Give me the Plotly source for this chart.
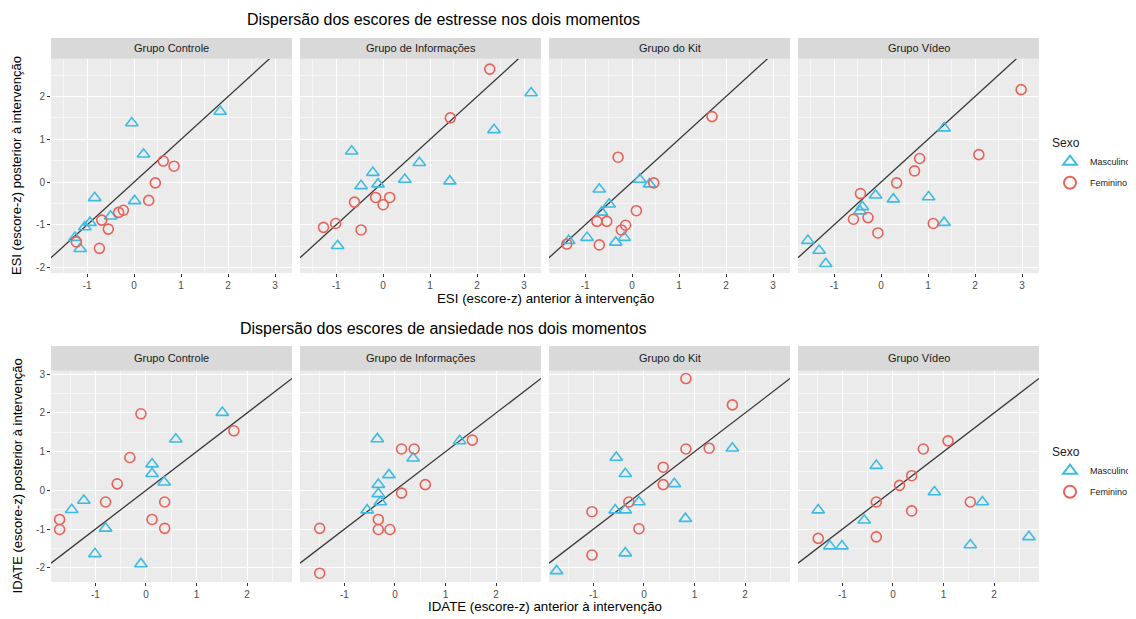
import plotly.graph_objects as go

# page body has an 8px margin: design in screenshot pixels, figure shifted by 8px
OFF = 8
W, H = 1136 - OFF, 619 - OFF

# ---------------- data (escore-z) ----------------
GROUPS = ["Grupo Controle", "Grupo de Informações", "Grupo do Kit", "Grupo Vídeo"]
SEXES = ["Masculino", "Feminino"]

# tick labels
ESI_X_TICKS = [-1, 0, 1, 2, 3]
ESI_Y_TICKS = [-2, -1, 0, 1, 2]
IDATE_X_TICKS = [-1, 0, 1, 2]
IDATE_Y_TICKS = [-2, -1, 0, 1, 2, 3]

# ESI (estresse) - anterior (x) / posterior (y)
esi_controle_m_x = [-0.05, 0.20, 1.83, -0.84, 0.01, -0.94, -1.05, -0.50, -1.26, -1.15]
esi_controle_m_y = [1.38, 0.65, 1.65, -0.37, -0.44, -0.95, -1.05, -0.80, -1.30, -1.56]
esi_controle_f_x = [0.62, 0.85, 0.45, 0.31, -0.23, -0.33, -0.69, -0.55, -0.74, -1.23]
esi_controle_f_y = [0.49, 0.37, -0.02, -0.43, -0.66, -0.71, -0.89, -1.10, -1.55, -1.40]

esi_info_m_x = [-0.67, -0.22, -0.47, -0.11, 0.46, 0.77, 1.42, 2.36, 3.15, -0.97]
esi_info_m_y = [0.72, 0.22, -0.09, -0.05, 0.06, 0.45, 0.02, 1.22, 2.08, -1.49]
esi_info_f_x = [2.27, 1.43, 0.14, -0.16, 0.00, -0.61, -1.01, -1.27, -0.47]
esi_info_f_y = [2.64, 1.50, -0.36, -0.36, -0.53, -0.47, -0.97, -1.06, -1.12]

esi_kit_m_x = [-0.70, -0.49, -0.65, -0.96, -1.35, -0.35, -0.17, 0.16, 0.37]
esi_kit_m_y = [-0.17, -0.52, -0.71, -1.30, -1.37, -1.41, -1.30, 0.06, -0.05]
esi_kit_f_x = [1.70, -0.30, 0.46, 0.09, -0.75, -0.54, -0.14, -0.23, -0.70, -1.39]
esi_kit_f_y = [1.53, 0.58, -0.02, -0.67, -0.92, -0.92, -1.01, -1.12, -1.47, -1.45]

esi_video_m_x = [1.34, -0.12, 0.26, 1.01, -0.40, -0.45, 1.34, -1.56, -1.32, -1.18]
esi_video_m_y = [1.26, -0.31, -0.40, -0.35, -0.58, -0.68, -0.95, -1.37, -1.60, -1.91]
esi_video_f_x = [2.98, 2.08, 0.82, 0.71, 0.33, -0.44, -0.59, -0.28, -0.07, 1.11]
esi_video_f_y = [2.16, 0.64, 0.55, 0.26, -0.02, -0.27, -0.87, -0.83, -1.19, -0.97]

# IDATE (ansiedade) - anterior (x) / posterior (y)
idate_controle_m_x = [1.51, 0.59, 0.12, 0.12, 0.36, -1.23, -1.47, -0.80, -1.01, -0.10]
idate_controle_m_y = [2.01, 1.32, 0.68, 0.43, 0.21, -0.26, -0.50, -0.98, -1.64, -1.90]
idate_controle_f_x = [-0.10, 1.74, -0.32, -0.57, -0.80, 0.37, 0.12, 0.37, -1.71, -1.71]
idate_controle_f_y = [1.98, 1.54, 0.85, 0.17, -0.30, -0.30, -0.75, -0.98, -0.75, -1.01]

idate_info_m_x = [-0.35, 1.28, 0.36, -0.12, -0.33, -0.33, -0.29, -0.55]
idate_info_m_y = [1.33, 1.28, 0.83, 0.40, 0.15, -0.09, -0.30, -0.51]
idate_info_f_x = [1.53, 0.13, 0.38, 0.60, 0.13, -0.33, -0.33, -0.10, -1.49, -1.49]
idate_info_f_y = [1.30, 1.07, 1.07, 0.15, -0.07, -0.75, -1.01, -1.01, -0.98, -2.14]

idate_kit_m_x = [-0.55, -0.37, 0.60, -0.10, -0.57, -0.37, 0.82, 1.75, -0.37, -1.73]
idate_kit_m_y = [0.85, 0.43, 0.17, -0.30, -0.51, -0.51, -0.73, 1.09, -1.62, -2.08]
idate_kit_f_x = [0.83, 1.75, 0.83, 1.29, 0.38, 0.38, -0.30, -1.03, -0.10, -1.03]
idate_kit_f_y = [2.89, 2.21, 1.07, 1.09, 0.60, 0.15, -0.30, -0.55, -0.99, -1.67]

idate_video_m_x = [-0.33, 0.82, 1.77, -0.57, -1.25, -1.01, 1.53, 2.69, -1.48]
idate_video_m_y = [0.64, -0.04, -0.30, -0.77, -1.44, -1.44, -1.41, -1.20, -0.51]
idate_video_f_x = [1.09, 0.60, 0.37, 0.13, -0.33, 0.37, 1.53, -0.33, -1.48]
idate_video_f_y = [1.28, 1.07, 0.38, 0.13, -0.30, -0.53, -0.30, -1.20, -1.24]

ESI_PANELS = [
    (esi_controle_m_x, esi_controle_m_y, esi_controle_f_x, esi_controle_f_y),
    (esi_info_m_x, esi_info_m_y, esi_info_f_x, esi_info_f_y),
    (esi_kit_m_x, esi_kit_m_y, esi_kit_f_x, esi_kit_f_y),
    (esi_video_m_x, esi_video_m_y, esi_video_f_x, esi_video_f_y),
]
IDATE_PANELS = [
    (idate_controle_m_x, idate_controle_m_y, idate_controle_f_x, idate_controle_f_y),
    (idate_info_m_x, idate_info_m_y, idate_info_f_x, idate_info_f_y),
    (idate_kit_m_x, idate_kit_m_y, idate_kit_f_x, idate_kit_f_y),
    (idate_video_m_x, idate_video_m_y, idate_video_f_x, idate_video_f_y),
]

TITLE_TOP = "Dispersão dos escores de estresse nos dois momentos"
TITLE_BOT = "Dispersão dos escores de ansiedade nos dois momentos"
XT_TOP = "ESI (escore-z) anterior à intervenção"
YT_TOP = "ESI (escore-z) posterior à intervenção"
XT_BOT = "IDATE (escore-z) anterior à intervenção"
YT_BOT = "IDATE (escore-z) posterior à intervenção"

# ---------------- style ----------------
COL_M = "#3DBBE3"
COL_F = "#E8625A"
PANEL_BG = "#EBEBEB"
STRIP_BG = "#D9D9D9"
FONT = "Liberation Sans, Arial, sans-serif"

def fx(px):
    return (px - OFF) / W

def fy(py):
    return 1 - (py - OFF) / H

def minor_vals(ticks, rng):
    # ggplot minor breaks: midpoints between major breaks, plus one beyond each end
    step = ticks[1] - ticks[0]
    vals = [t + step / 2 for t in [ticks[0] - step] + list(ticks)]
    return [v for v in vals if rng[0] <= v <= rng[1]]

PANEL_X = [(51, 292), (300, 541), (549, 790), (798, 1039)]
ROWS = [
    dict(panels=ESI_PANELS, plot=(57, 272), strip=(36, 57), xr=[-1.77, 3.36], yr=[-2.13, 2.88],
         xticks=ESI_X_TICKS, yticks=ESI_Y_TICKS,
         title=TITLE_TOP, title_y=18, xt=XT_TOP, xt_y=297, yt=YT_TOP, legend="legend", leg_top=130),
    dict(panels=IDATE_PANELS, plot=(370, 582), strip=(345, 370), xr=[-1.88, 2.89], yr=[-2.37, 3.09],
         xticks=IDATE_X_TICKS, yticks=IDATE_Y_TICKS,
         title=TITLE_BOT, title_y=328, xt=XT_BOT, xt_y=606, yt=YT_BOT, legend="legend2", leg_top=440),
]

fig = go.Figure()
layout = dict(
    width=W, height=H, margin=dict(l=0, r=0, t=0, b=0),
    paper_bgcolor="white", plot_bgcolor=PANEL_BG,
    font=dict(family=FONT, color="#1A1A1A"),
)
shapes, annotations = [], []

idx = 0
for r, row in enumerate(ROWS):
    py0, py1 = row["plot"]
    for c, (mx, my, fxx, fyy) in enumerate(row["panels"]):
        idx += 1
        xa = "x" if idx == 1 else f"x{idx}"
        ya = "y" if idx == 1 else f"y{idx}"
        xk = "xaxis" if idx == 1 else f"xaxis{idx}"
        yk = "yaxis" if idx == 1 else f"yaxis{idx}"
        px0, px1 = PANEL_X[c]
        base = dict(showgrid=True, gridcolor="white", gridwidth=1.1,
                    zeroline=False, showline=False,
                    tickfont=dict(size=10, color="#4D4D4D", family=FONT),
                    ticks="outside", ticklen=3, tickcolor="#333333", tickwidth=0.8)
        layout[xk] = dict(domain=[fx(px0), fx(px1)], anchor=ya, range=row["xr"],
                          tickmode="array", tickvals=row["xticks"],
                          ticktext=[str(t) for t in row["xticks"]],
                          minor=dict(tickmode="array", tickvals=minor_vals(row["xticks"], row["xr"]),
                                     showgrid=True, gridcolor="#F6F6F6", gridwidth=0.5, ticks=""),
                          **base)
        layout[yk] = dict(domain=[fy(py1), fy(py0)], anchor=xa, range=row["yr"],
                          tickmode="array", tickvals=row["yticks"],
                          ticktext=[str(t) for t in row["yticks"]],
                          minor=dict(tickmode="array", tickvals=minor_vals(row["yticks"], row["yr"]),
                                     showgrid=True, gridcolor="#F6F6F6", gridwidth=0.5, ticks=""),
                          showticklabels=(c == 0), **base)
        if c != 0:
            layout[yk]["ticks"] = ""
        # identity line y = x, clipped to panel ranges
        lo = max(row["xr"][0], row["yr"][0])
        hi = min(row["xr"][1], row["yr"][1])
        fig.add_trace(go.Scatter(x=[lo, hi], y=[lo, hi], mode="lines", xaxis=xa, yaxis=ya,
                                 line=dict(color="#3A3A3A", width=1.3), showlegend=False,
                                 hoverinfo="skip"))
        fig.add_trace(go.Scatter(x=mx, y=my, mode="markers", name=SEXES[0], xaxis=xa, yaxis=ya,
                                 marker=dict(symbol="triangle-up-open", size=11, color=COL_M,
                                             line=dict(width=1.6, color=COL_M)),
                                 legend=row["legend"], legendgroup=f"m{r}", showlegend=(c == 0)))
        fig.add_trace(go.Scatter(x=fxx, y=fyy, mode="markers", name=SEXES[1], xaxis=xa, yaxis=ya,
                                 marker=dict(symbol="circle-open", size=10, color=COL_F,
                                             line=dict(width=1.6, color=COL_F)),
                                 legend=row["legend"], legendgroup=f"f{r}", showlegend=(c == 0)))
        # strip
        sy0, sy1 = row["strip"]
        shapes.append(dict(type="rect", xref="paper", yref="paper", x0=fx(px0), x1=fx(px1),
                           y0=fy(sy1), y1=fy(sy0), fillcolor=STRIP_BG, line=dict(width=0), layer="below"))
        annotations.append(dict(xref="paper", yref="paper", x=fx((px0 + px1) / 2), y=fy((sy0 + sy1) / 2),
                                text=GROUPS[c], showarrow=False, font=dict(size=11, color="#1A1A1A", family=FONT),
                                xanchor="center", yanchor="middle"))
    # titles
    annotations.append(dict(xref="paper", yref="paper", x=fx(443), y=fy(row["title_y"]), text=row["title"],
                            showarrow=False, font=dict(size=16, color="#000000", family=FONT),
                            xanchor="center", yanchor="middle"))
    annotations.append(dict(xref="paper", yref="paper", x=fx(545), y=fy(row["xt_y"]), text=row["xt"],
                            showarrow=False, font=dict(size=13.3, color="#000000", family=FONT),
                            xanchor="center", yanchor="middle"))
    annotations.append(dict(xref="paper", yref="paper", x=fx(17), y=fy((py0 + py1) / 2), text=row["yt"],
                            showarrow=False, textangle=-90, font=dict(size=13, color="#000000", family=FONT),
                            xanchor="center", yanchor="middle"))

for r, row in enumerate(ROWS):
    key = row["legend"]
    layout[key] = dict(x=fx(1050), y=fy(row["leg_top"]), xanchor="left", yanchor="top",
                       bgcolor="rgba(0,0,0,0)", font=dict(size=9, color="#1A1A1A", family=FONT),
                       itemsizing="constant", itemwidth=30, tracegroupgap=2,
                       title=dict(text="Sexo", font=dict(size=12, family=FONT)))
layout["shapes"] = shapes
layout["annotations"] = annotations
fig.update_layout(**layout)

fig.write_html("out.html")
